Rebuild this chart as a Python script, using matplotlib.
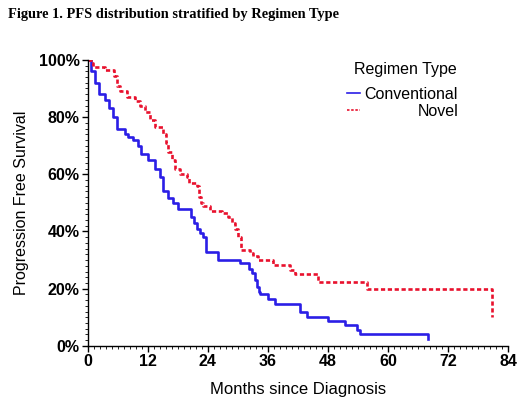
# PFS by regimen type, Kaplan-Meier style step plot
import matplotlib
matplotlib.use('Agg')
import matplotlib.pyplot as plt
from matplotlib.ticker import MultipleLocator, FuncFormatter, AutoMinorLocator

# ----------------------------------------------------------------------------------
# Data, months and % surviving after each step
# ----------------------------------------------------------------------------------
conv_t = [0, 0.6, 1.4, 2.2, 3.4, 4.2, 5.0, 5.8, 7.4, 8.0, 9.0, 10.0, 10.6,
          12.0, 13.4, 14.4, 15.0, 16.0, 17.0, 18.0, 20.6, 21.2, 21.8, 22.4,
          23.0, 23.6, 26.0, 30.4, 32.2, 32.8, 33.4, 33.8, 34.2, 34.4, 36.0,
          37.4, 42.4, 43.8, 48.0, 51.4, 53.8, 54.4, 68.0]
conv_s = [100, 96, 92, 88, 86, 83, 80, 76, 74, 73, 72, 70, 67,
          65, 62, 59, 54, 51.6, 50, 48, 45, 43, 41, 39.6,
          38, 33, 30, 29, 27, 25.5, 23, 20.7, 19, 18, 16.5,
          14.5, 12, 10.2, 8.8, 7.4, 5.6, 4.2, 2.5]

novel_t = [0, 0.6, 1.0, 3.4, 5.2, 5.8, 6.4, 7.8, 9.4, 10.4, 11.4, 12.4, 13.4,
           15.0, 15.6, 16.0, 16.8, 17.4, 18.4, 19.8, 20.2, 21.8, 22.2, 22.6,
           23.0, 24.4, 26.8, 28.0, 28.8, 29.4, 30.0, 30.6, 32.4, 33.0, 34.0,
           37.0, 40.4, 41.4, 46.0, 55.8, 80.8]
novel_s = [100, 99, 97.5, 96.5, 94.4, 91, 89, 87, 85.6, 84, 81.8, 79, 76.5,
           74, 71, 67.7, 65, 62, 60, 59, 57, 56, 52, 50,
           49, 47, 46.6, 45, 43, 40.7, 38, 33.5, 32.6, 31.5, 30,
           28.4, 26.7, 25, 22.5, 20, 10]

legend_title = 'Regimen Type'
labels = ['Conventional', 'Novel']
colors = ['#2b1ee6', '#e8112d']

# ----------------------------------------------------------------------------------
# Plot
# ----------------------------------------------------------------------------------
plt.rcParams['font.family'] = ['Liberation Sans', 'DejaVu Sans']

fig = plt.figure(figsize=(5.2, 3.99), dpi=100)
ax = fig.add_axes([0.169, 0.133, 0.808, 0.717])

ax.step(conv_t, conv_s, where='post', color=colors[0], lw=1.9)
ax.step(novel_t, novel_s, where='post', color=colors[1], lw=1.9,
        dashes=(1.6, 1.0))

ax.set_xlim(0, 84)
ax.set_ylim(0, 100)
ax.xaxis.set_major_locator(MultipleLocator(12))
ax.xaxis.set_minor_locator(AutoMinorLocator(10))
ax.yaxis.set_major_locator(MultipleLocator(20))
ax.yaxis.set_minor_locator(AutoMinorLocator(10))
ax.yaxis.set_major_formatter(FuncFormatter(lambda v, p: f'{v:.0f}%'))

for s in ['top', 'right']:
    ax.spines[s].set_visible(False)
for s in ['left', 'bottom']:
    ax.spines[s].set_linewidth(1.0)
ax.tick_params(which='major', length=4, width=1.0, labelsize=11.5, pad=2)
ax.tick_params(which='minor', length=2, width=0.6)
for lab in ax.get_xticklabels() + ax.get_yticklabels():
    lab.set_fontweight('bold')

ax.set_xlabel('Months since Diagnosis', fontsize=12, labelpad=9)
ax.set_ylabel('Progression Free Survival', fontsize=11.5, labelpad=7)

# legend drawn by hand so entries sit right-aligned like the original
ax.text(0.755, 0.965, legend_title, transform=ax.transAxes, fontsize=11.5,
        ha='center', va='center')
ax.plot([0.617, 0.648], [0.885, 0.885], transform=ax.transAxes,
        color=colors[0], lw=1.2)
ax.plot([0.617, 0.648], [0.825, 0.825], transform=ax.transAxes,
        color=colors[1], lw=1.2, dashes=(1.5, 1.0))
ax.text(0.881, 0.878, labels[0], transform=ax.transAxes, fontsize=11.5,
        ha='right', va='center')
ax.text(0.881, 0.818, labels[1], transform=ax.transAxes, fontsize=11.5,
        ha='right', va='center')

fig.text(0.015, 0.955, 'Figure 1. PFS distribution stratified by Regimen Type',
         family='Liberation Serif', fontweight='bold', fontsize=10.4,
         ha='left', va='baseline')

fig.savefig('out.png', dpi=100)
